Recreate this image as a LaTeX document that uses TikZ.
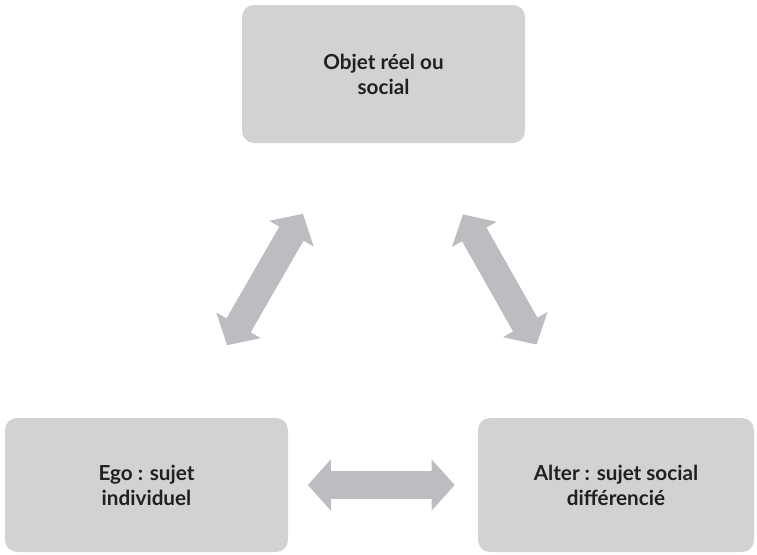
\documentclass[tikz,border=0pt]{standalone}
\usepackage{fontspec}
\setmainfont{Lato}
\usetikzlibrary{arrows.meta}

\definecolor{boite}{HTML}{D1D2D4}
\definecolor{fleche}{HTML}{BCBDC0}
\definecolor{encre}{HTML}{231F20}

\tikzset{
  pole/.style={fill=boite, rounded corners=9pt, text=encre,
    font=\bfseries\fontsize{15.5pt}{18.75pt}\selectfont,
    align=center, inner sep=0pt},
  lien/.style={line width=21pt, draw=fleche,
    {Triangle[length=17.25pt, width=37.5pt]}-{Triangle[length=17.25pt, width=37.5pt]},
    shorten <=121pt, shorten >=121pt}
}

\begin{document}
\begin{tikzpicture}[x=0.75pt, y=-0.75pt]
  \useasboundingbox (0,0) rectangle (757,554);

  % the three poles
  \node[pole, minimum width=212.25pt, minimum height=103.5pt] (objet) at (383.5,74)
    {Objet réel ou\\social};
  \node[pole, minimum width=212.25pt, minimum height=100.5pt] (ego) at (146.5,485)
    {Ego : sujet\\individuel};
  \node[pole, minimum width=207pt, minimum height=100.5pt] (alter) at (616,485)
    {Alter : sujet social\\différencié};

  % loops over the 3 links
  \foreach \a/\b in {ego/objet, objet/alter, ego/alter}{
    \draw[lien] (\a.center) -- (\b.center);
  }
\end{tikzpicture}
\end{document}
